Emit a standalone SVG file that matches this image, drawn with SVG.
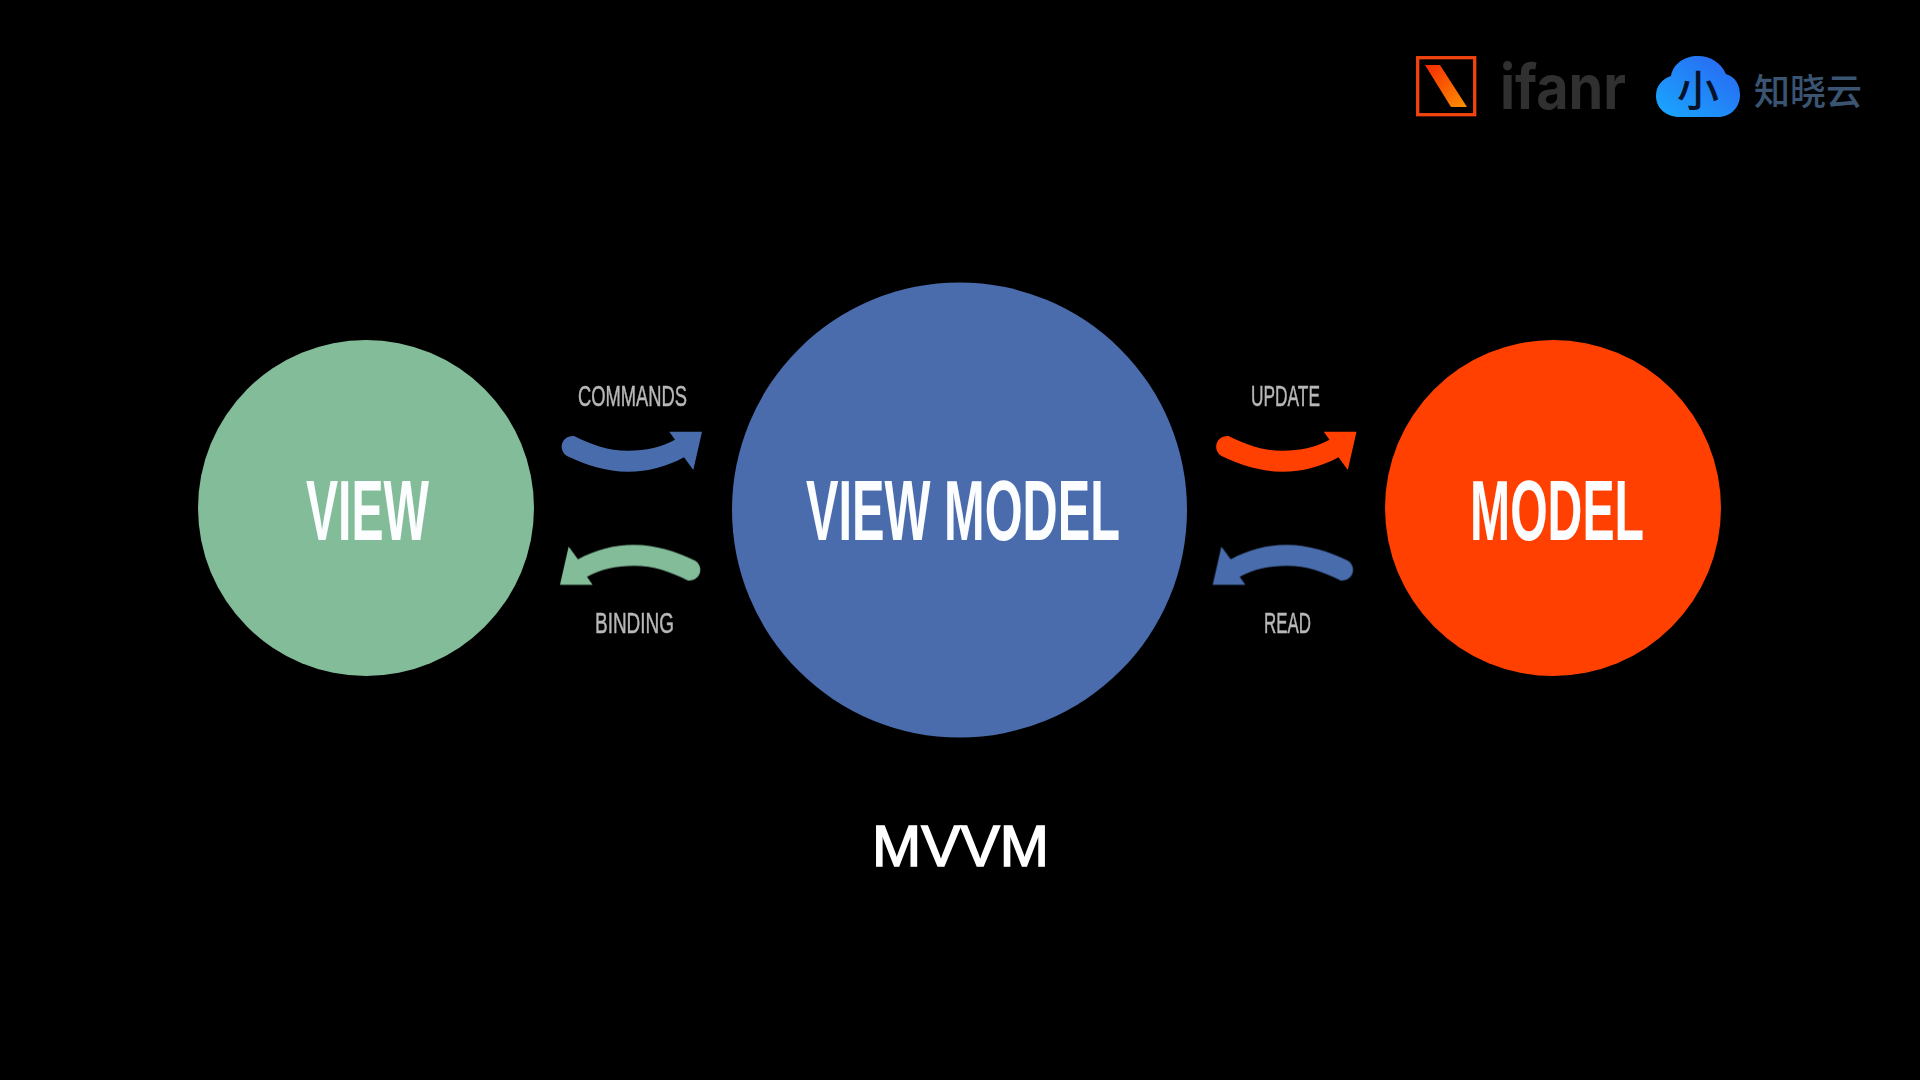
<svg xmlns="http://www.w3.org/2000/svg" width="1920" height="1080" viewBox="0 0 1920 1080">
<style>
.big{font-family:"Liberation Sans Narrow","Liberation Sans",sans-serif;font-weight:700;font-size:86px;fill:#fbfdff}
.small{font-family:"Liberation Sans Narrow","Liberation Sans",sans-serif;font-size:30px;fill:#b8b8b8;stroke:#b8b8b8;stroke-width:.5px}
.title{font-family:"Liberation Sans",sans-serif;font-size:58px;fill:#fff;stroke:#fff;stroke-width:1.6px}
.cjk{font-family:"Noto Sans CJK SC",sans-serif}
.soft{filter:url(#soft)}
</style>
<defs>
<path id="arrow" d="M574 436C592 445 608 450.700 628 450.700C646 450.700 662 447 675 439.700L669.300 431.700H702L693.300 470L684 457.300C666 467 648 471.700 628.300 471.700C606 471.700 586 465 567 456A10.800 10.800 0 0 1 574 436Z"/>
<filter id="soft" x="-5%" y="-5%" width="110%" height="110%"><feGaussianBlur stdDeviation="0.6"/></filter>
<linearGradient id="slash" x1="0" y1="0" x2="1" y2="1"><stop offset="0" stop-color="#f52a00"/><stop offset="1" stop-color="#ff9100"/></linearGradient>
<linearGradient id="cloud" x1="0" y1="1" x2="1" y2="0"><stop offset="0" stop-color="#19a8ff"/><stop offset="1" stop-color="#2a63f0"/></linearGradient>
</defs>
<rect width="1920" height="1080" fill="#000"/>
<g id="logo-ifanr">
<rect x="1417.700" y="57.700" width="57" height="57" fill="none" stroke="#f2440f" stroke-width="3.300"/>
<path d="M1425 65H1440L1467 107H1451Z" fill="url(#slash)"/>
<text x="1500" y="109" font-family="Inter,sans-serif" font-weight="700" font-size="62" textLength="126" lengthAdjust="spacingAndGlyphs" fill="#303030">ifanr</text>
</g>
<g id="logo-zhixiaoyun">
<path d="M1680 117C1665 117 1656 107 1656 96C1656 86 1662 79 1671 76C1673 64 1684 56 1698 56C1711 56 1721 63 1726 74C1736 77 1740 86 1740 95C1740 107 1731 117 1718 117Z" fill="url(#cloud)"/>
<text x="1698" y="106" text-anchor="middle" class="cjk" font-weight="500" font-size="42" fill="#06122a">小</text>
<text x="1808" y="105" text-anchor="middle" class="cjk" font-weight="500" font-size="36" fill="#3a5472">知晓云</text>
</g>
<g id="node-view">
<circle cx="366" cy="508" r="168" fill="#83bc99"/>
<text class="big soft" x="306" y="539.500" textLength="123" lengthAdjust="spacingAndGlyphs">VIEW</text>
</g>
<g id="node-viewmodel">
<circle cx="959.500" cy="510" r="227.500" fill="#4a6cad"/>
<text class="big soft" x="806" y="539.500" textLength="314" lengthAdjust="spacingAndGlyphs">VIEW MODEL</text>
</g>
<g id="node-model">
<circle cx="1553" cy="508" r="168" fill="#ff4000"/>
<text class="big soft" x="1470" y="539.500" textLength="174" lengthAdjust="spacingAndGlyphs">MODEL</text>
</g>
<g id="connectors" class="soft">
<use href="#arrow" fill="#4a6cad"/>
<use href="#arrow" fill="#ff4000" transform="translate(654.500 0)"/>
<use href="#arrow" fill="#83bc99" transform="rotate(180 631 508.300)"/>
<use href="#arrow" fill="#4a6cad" transform="translate(652.700 0) rotate(180 631 508.300)"/>
</g>
<g id="labels" class="soft">
<text class="small" x="578" y="406" textLength="109" lengthAdjust="spacingAndGlyphs">COMMANDS</text>
<text class="small" x="595" y="633" textLength="79" lengthAdjust="spacingAndGlyphs">BINDING</text>
<text class="small" x="1251" y="406" textLength="69" lengthAdjust="spacingAndGlyphs">UPDATE</text>
<text class="small" x="1264" y="633" textLength="47" lengthAdjust="spacingAndGlyphs">READ</text>
</g>
<text class="title" x="872" y="866" textLength="177" lengthAdjust="spacingAndGlyphs">MVVM</text>
</svg>
